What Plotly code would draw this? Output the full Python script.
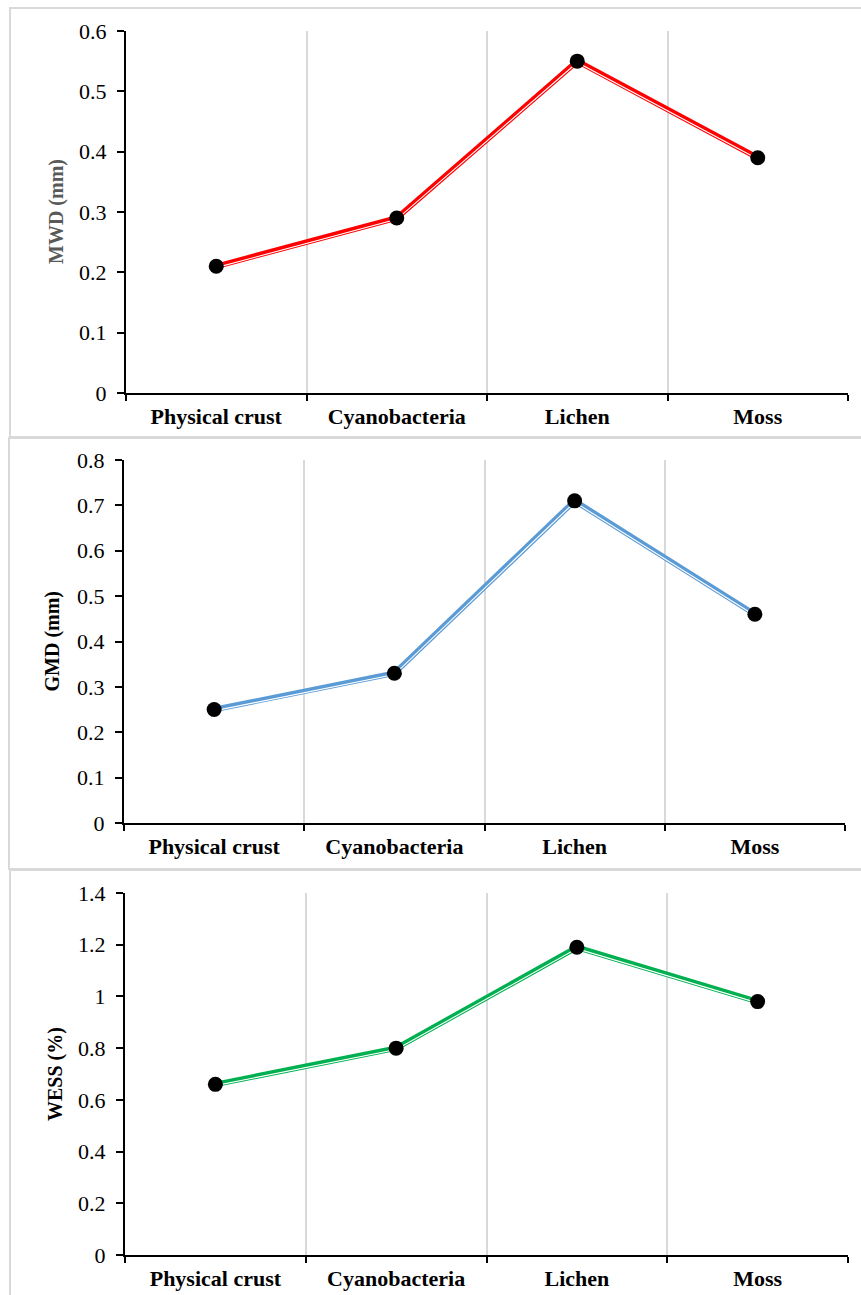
import plotly.graph_objects as go

# Crust types shared by all three panels
categories = ["Physical crust", "Cyanobacteria", "Lichen", "Moss"]

# Aggregate stability indices per crust type
mwd_values = [0.21, 0.29, 0.55, 0.39]
gmd_values = [0.25, 0.33, 0.71, 0.46]
wess_values = [0.66, 0.80, 1.19, 0.98]

mwd_ticks = [0, 0.1, 0.2, 0.3, 0.4, 0.5, 0.6]
gmd_ticks = [0, 0.1, 0.2, 0.3, 0.4, 0.5, 0.6, 0.7, 0.8]
wess_ticks = [0, 0.2, 0.4, 0.6, 0.8, 1.0, 1.2, 1.4]

W, H = 861, 1295
FONT = "Liberation Serif"

# Panel setup: (values, ticks, title, title colour, line colour, x px span, y px span, title x px, frame px)
panels = [
    (mwd_values, mwd_ticks, "MWD (mm)", "#595959", "#ff0000", (126, 848), (31, 393), 57, (10, 8, 437)),
    (gmd_values, gmd_ticks, "GMD (mm)", "#000000", "#5b9bd5", (124, 845), (460, 823), 52, (9, 438, 869)),
    (wess_values, wess_ticks, "WESS (%)", "#000000", "#00b050", (125, 848), (893, 1255), 55, (10, 870, 1310)),
]

fig = go.Figure()
shapes = []
annotations = []

for i, (vals, ticks, title, tcol, lcol, (x0, x1), (y0, y1), tx, (fx, fy0, fy1)) in enumerate(panels, start=1):
    xa = "x" if i == 1 else f"x{i}"
    ya = "y" if i == 1 else f"y{i}"
    ymax = ticks[-1]
    ydom = [1 - y1 / H, 1 - y0 / H]
    xdom = [x0 / W, x1 / W]

    # Compound ("double") line: thick coloured stroke with a thin white core shifted down
    shift = 1.3 * ymax / (y1 - y0)
    fig.add_trace(go.Scatter(x=categories, y=vals, mode="lines",
                             line=dict(color=lcol, width=5.5), xaxis=xa, yaxis=ya,
                             showlegend=False, hoverinfo="skip"))
    fig.add_trace(go.Scatter(x=categories, y=[v - shift for v in vals], mode="lines",
                             line=dict(color="white", width=1.1), xaxis=xa, yaxis=ya,
                             showlegend=False, hoverinfo="skip"))
    fig.add_trace(go.Scatter(x=categories, y=vals, mode="markers",
                             marker=dict(color="black", size=15, symbol="circle"),
                             xaxis=xa, yaxis=ya, showlegend=False))

    fig.update_layout(**{
        ("xaxis" if i == 1 else f"xaxis{i}"): dict(
            domain=xdom, anchor=ya, type="category", range=[-0.5, 3.5],
            tickson="boundaries", ticks="outside", ticklen=6, tickwidth=1.5, tickcolor="black",
            showline=True, linecolor="black", linewidth=2,
            showgrid=True, gridcolor="#d9d9d9", gridwidth=1.5,
            tickfont=dict(family=FONT, size=22, color="black", weight="bold"),
            ticklabelstandoff=3, zeroline=False, automargin=False,
        ),
        ("yaxis" if i == 1 else f"yaxis{i}"): dict(
            domain=ydom, anchor=xa, range=[0, ymax],
            tickvals=ticks, ticktext=[f"{t:g}" for t in ticks],
            ticks="outside", ticklen=7, tickwidth=1.5, tickcolor="black",
            showline=True, linecolor="black", linewidth=2,
            showgrid=False, zeroline=False, automargin=False,
            tickfont=dict(family=FONT, size=22, color="black"),
            ticklabelstandoff=6,
        ),
    })

    annotations.append(dict(
        text=f"<b>{title}</b>", textangle=-90, xref="paper", yref="paper",
        x=tx / W, y=1 - (y0 + y1) / 2 / H, xanchor="center", yanchor="middle",
        showarrow=False, font=dict(family=FONT, size=20, color=tcol),
    ))

    # Chart-area frame around each panel
    shapes.append(dict(type="rect", xref="paper", yref="paper",
                       x0=fx / W, x1=1.05, y0=1 - fy1 / H, y1=1 - fy0 / H,
                       line=dict(color="#d9d9d9", width=2), fillcolor="rgba(0,0,0,0)",
                       layer="below"))

fig.update_layout(
    width=W, height=H, margin=dict(l=0, r=0, t=0, b=0, autoexpand=False),
    paper_bgcolor="white", plot_bgcolor="white",
    font=dict(family=FONT),
    shapes=shapes, annotations=annotations,
)

fig.write_html("out.html")
